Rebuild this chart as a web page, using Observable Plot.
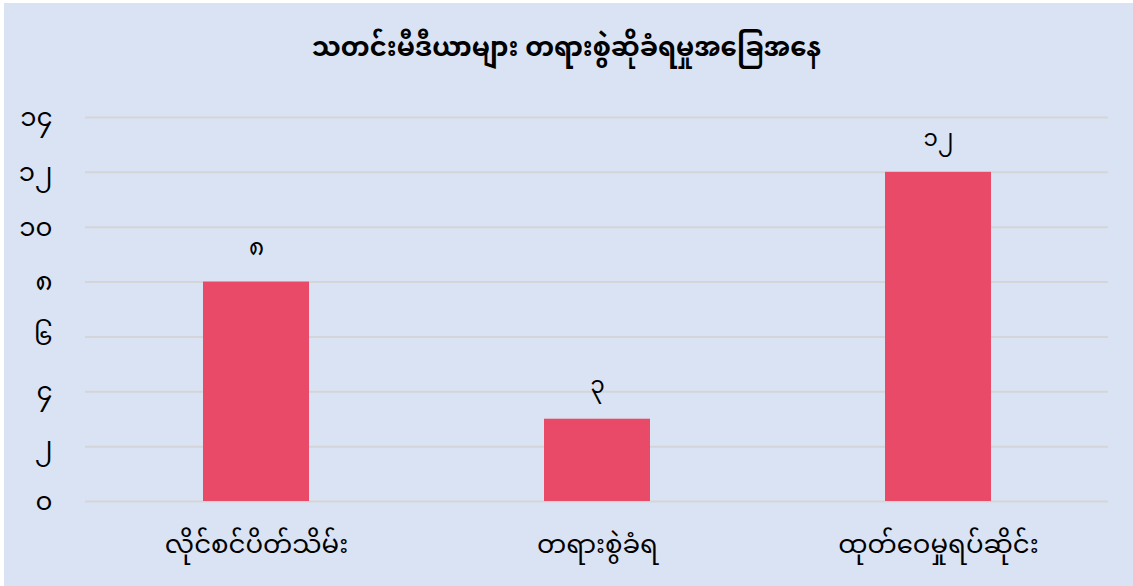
<!DOCTYPE html>
<html>
<head>
<meta charset="utf-8">
<script src="https://cdn.jsdelivr.net/npm/d3@7"></script>
<script src="https://cdn.jsdelivr.net/npm/@observablehq/plot@0.6"></script>
<style>
  html, body { margin: 0; padding: 0; background: #dae3f3; }
  body { width: 1133px; height: 586px; overflow: hidden; position: relative; font-family: "Noto Sans Myanmar", "Padauk", "Myanmar Text", "Noto Sans", sans-serif; }
  #title { height: 90px; line-height: 100px; text-align: center; font-size: 26px; font-weight: bold; color: #000; }
  .edgeL { position: absolute; left: 0; top: 0; width: 4px; height: 586px; background: #fff; }
  .edgeT { position: absolute; left: 0; top: 0; width: 1133px; height: 3px; background: #fff; }
</style>
</head>
<body>
<div id="title"></div>
<div id="chart"></div>
<div class="edgeL"></div><div class="edgeT"></div>
<script>
const titleText = "သတင်းမီဒီယာများ တရားစွဲဆိုခံရမှုအခြေအနေ";
const categories = ["လိုင်စင်ပိတ်သိမ်း", "တရားစွဲခံရ", "ထုတ်ဝေမှုရပ်ဆိုင်း"];
const values = [8, 3, 12];
const valueLabels = ["၈", "၃", "၁၂"];
const tickValues = [0, 2, 4, 6, 8, 10, 12, 14];
const tickLabels = ["၀", "၂", "၄", "၆", "၈", "၁၀", "၁၂", "၁၄"];

document.getElementById("title").textContent = titleText;

const data = categories.map((c, i) => ({category: c, value: values[i], label: valueLabels[i]}));

const chart = Plot.plot({
  width: 1133,
  height: 496,
  marginTop: 27,
  marginBottom: 85,
  marginLeft: 85,
  marginRight: 25,
  style: {background: "transparent", fontFamily: "'Noto Sans Myanmar', 'Padauk', 'Noto Sans', sans-serif", color: "#000"},
  x: {domain: categories, paddingInner: 0.69, paddingOuter: 0.345, label: null},
  y: {domain: [0, 14], label: null},
  marks: [
    Plot.ruleY(tickValues, {stroke: "#d3d5d8", strokeWidth: 2}),
    Plot.axisY(tickValues, {
      tickFormat: (d) => tickLabels[tickValues.indexOf(d)],
      tickSize: 0, tickPadding: 33, fontSize: 26, textAnchor: "end"
    }),
    Plot.axisX({tickSize: 0, tickPadding: 33, fontSize: 26}),
    Plot.barY(data, {x: "category", y: "value", fill: "#e84a67"}),
    Plot.text(data, {x: "category", y: "value", text: "label", dy: -34, fontSize: 23, fill: "#000"})
  ]
});
document.getElementById("chart").appendChild(chart);
</script>
</body>
</html>
